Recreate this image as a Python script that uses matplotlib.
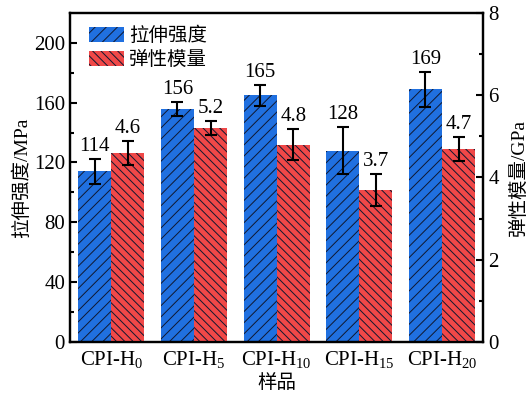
import matplotlib
matplotlib.use('Agg')
import matplotlib.pyplot as plt
import numpy as np

samples = ['CPI-H$_{0}$', 'CPI-H$_{5}$', 'CPI-H$_{10}$', 'CPI-H$_{15}$', 'CPI-H$_{20}$']
strength = [114, 156, 165, 128, 169]          # MPa
strength_err = [8.4, 4.7, 7.0, 16.0, 11.7]
modulus = [4.6, 5.2, 4.8, 3.7, 4.7]           # GPa
modulus_err = [0.29, 0.17, 0.38, 0.39, 0.29]

plt.rcParams['font.family'] = ['Liberation Serif', 'Noto Sans CJK SC']
plt.rcParams['mathtext.fontset'] = 'custom'
plt.rcParams['mathtext.rm'] = 'Liberation Serif'
plt.rcParams['mathtext.it'] = 'Liberation Serif'
plt.rcParams['hatch.color'] = '#101830'
plt.rcParams['hatch.linewidth'] = 0.7

blue = '#2070e0'
red = '#f04848'
w = 0.4
x = np.arange(len(samples))
fs = 15

fig = plt.figure(figsize=(5.3, 3.93), dpi=100)
ax = fig.add_axes([0.132, 0.130, 0.780, 0.837])
ax2 = ax.twinx()

b1 = ax.bar(x - w / 2, strength, w, color=blue, hatch='///', label='拉伸强度')
ax.errorbar(x - w / 2, strength, yerr=strength_err, fmt='none', ecolor='k',
            elinewidth=1.5, capsize=4, capthick=1.5)
b2 = ax2.bar(x + w / 2, modulus, w, color=red, hatch='\\\\\\\\', label='弹性模量')
ax2.errorbar(x + w / 2, modulus, yerr=modulus_err, fmt='none', ecolor='k',
             elinewidth=1.5, capsize=4, capthick=1.5)

for xi, v, e in zip(x, strength, strength_err):
    ax.text(xi - w / 2, v + e + 2, f'{v}', ha='center', va='bottom', fontsize=fs)
for xi, v, e in zip(x, modulus, modulus_err):
    ax2.text(xi + w / 2, v + e + 0.07, f'{v}', ha='center', va='bottom', fontsize=fs)

ax.set_xlim(-0.5, 4.5)
ax.set_ylim(0, 220)
ax2.set_ylim(0, 8)
ax.set_yticks([0, 40, 80, 120, 160, 200])
ax.set_yticks([20, 60, 100, 140, 180], minor=True)
ax2.set_yticks([0, 2, 4, 6, 8])
ax2.set_yticks([1, 3, 5, 7], minor=True)
ax.set_xticks(x)
ax.set_xticklabels(samples, fontsize=fs)

ax.tick_params(axis='x', length=0, pad=5)
for a in (ax, ax2):
    a.tick_params(axis='y', which='both', direction='in', labelsize=fs, width=1.5)
    a.tick_params(axis='y', which='major', length=5)
    a.tick_params(axis='y', which='minor', length=3)
    for s in a.spines.values():
        s.set_linewidth(1.6)

ax.set_xlabel('样品', fontsize=14, labelpad=3)
ax.set_ylabel('拉伸强度/MPa', fontsize=14, labelpad=2)
ax2.set_ylabel('弹性模量/GPa', fontsize=14, labelpad=8)

ax.legend([b1, b2], ['拉伸强度', '弹性模量'], loc='upper left', frameon=False,
          fontsize=14, handlelength=1.8, handleheight=0.85, handletextpad=0.3,
          labelspacing=0.3, borderaxespad=0.3, bbox_to_anchor=(0.012, 1.0))

fig.savefig('out.png', dpi=100)
